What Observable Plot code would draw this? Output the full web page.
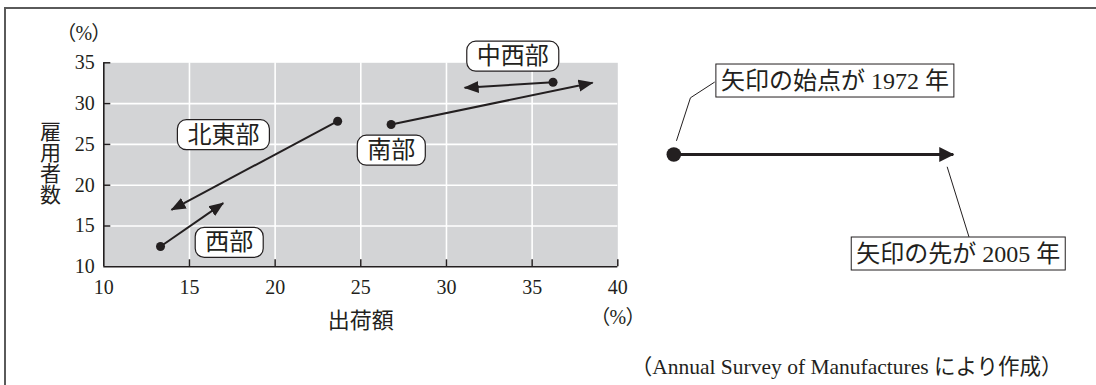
<!DOCTYPE html>
<html><head><meta charset="utf-8">
<script src="https://cdn.jsdelivr.net/npm/d3@7"></script>
<script src="https://cdn.jsdelivr.net/npm/@observablehq/plot@0.6"></script>
<style>
html,body{margin:0;padding:0;background:#fff;}
#wrap{position:relative;width:1096px;height:385px;overflow:hidden;}
#frame{position:absolute;left:4px;top:7px;width:1200px;height:500px;border-top:2px solid #5a5a5a;border-left:2px solid #5a5a5a;}
#chart{position:absolute;left:0;top:0;}
</style></head><body>
<div id="wrap"><div id="frame"></div><div id="chart"></div></div>
<script>
// ---- data (shares in %, 1972 -> 2005) ----
const regions = ["北東部", "西部", "南部", "中西部"];
const shipments1972 = [23.65, 13.31, 26.77, 36.22];
const employment1972 = [27.84, 12.49, 27.44, 32.62];
const shipments2005 = [13.95, 16.97, 38.53, 31.06];
const employment2005 = [16.99, 17.80, 32.55, 31.94];
// label anchor positions (data units)
const labelX = [16.98, 17.32, 26.78, 33.87];
const labelY = [26.15, 12.95, 24.25, 35.77];

const xTicks = [10, 15, 20, 25, 30, 35, 40];
const yTicks = [10, 15, 20, 25, 30, 35];

const yTitle = "雇用者数";
const xTitle = "出荷額";
const unitText = "（%）";
const caption = "（Annual Survey of Manufactures により作成）";

// legend (explanatory key, placed in data units right of the plot)
const legendText = ["矢印の始点が 1972 年", "矢印の先が 2005 年"];
const legendArrow = [{x1: 43.27, y1: 23.76, x2: 59.58, y2: 23.76}];
const legendTextX = [52.67, 59.87];
const legendTextY = [32.79, 11.59];
const leaderStart = [{x: 45.64, y: 32.62}, {x: 44.24, y: 30.71}, {x: 43.43, y: 25.48}];
const leaderEnd = [{x: 59.23, y: 22.21}, {x: 60.49, y: 13.71}];

// ---- build tables ----
const arrows = regions.map((r, i) => ({region: r, x1: shipments1972[i], y1: employment1972[i], x2: shipments2005[i], y2: employment2005[i]}));
const labels = regions.map((r, i) => ({text: r, x: labelX[i], y: labelY[i]}));
const legendLabels = legendText.map((t, i) => ({text: t, x: legendTextX[i], y: legendTextY[i]}));

const ink = "#231f20";
const font = '"Liberation Serif","Noto Sans CJK JP",serif';

const chart = Plot.plot({
  width: 1096, height: 385,
  marginLeft: 103.3, marginRight: 478.7, marginTop: 62.3, marginBottom: 118.7,
  x: {domain: [10, 40]},
  y: {domain: [10, 35]},
  style: {fontFamily: font, fontSize: "20px", color: ink, background: "transparent", overflow: "visible"},
  marks: [
    Plot.frame({fill: "#d3d4d6", stroke: "none"}),
    Plot.ruleX(xTicks.slice(1, -1), {stroke: "white", strokeWidth: 1.6}),
    Plot.ruleY(yTicks.slice(1, -1), {stroke: "white", strokeWidth: 1.6}),
    Plot.ruleX([10], {stroke: ink, strokeWidth: 1.6}),
    Plot.ruleY([10], {stroke: ink, strokeWidth: 1.6}),
    Plot.ruleX(xTicks.slice(1), {y1: 10, y2: 10, insetTop: -7, stroke: ink, strokeWidth: 1.5}),
    Plot.ruleY(yTicks.slice(1), {x1: 10, x2: 10, insetRight: -7, stroke: ink, strokeWidth: 1.5}),
    Plot.axisX(xTicks, {tickSize: 0, tickPadding: 13, fontSize: 20, label: null}),
    Plot.axisY(yTicks, {tickSize: 0, tickPadding: 9, fontSize: 20, label: null}),
    // axis titles
    Plot.text([yTitle], {x: 6.77, y: 23.66, text: d => d, fontSize: 21, ariaDescription: "ytitle"}),
    Plot.text([xTitle], {x: 25.0, y: 3.42, text: d => d, fontSize: 22}),
    Plot.text([unitText, unitText], {x: [8.83, 40.0], y: [38.55, 3.73], text: d => d, fontSize: 20, ariaDescription: "pct"}),
    Plot.text([caption], {x: 65.96, y: -2.30, text: d => d, textAnchor: "end", fontSize: 21.5}),
    // data arrows
    Plot.link(arrows, {x1: "x1", y1: "y1", x2: "x2", y2: "y2", stroke: ink, strokeWidth: 2, ariaDescription: "arrows"}),
    Plot.dot(arrows, {x: "x1", y: "y1", r: 4.5, fill: ink, stroke: "none"}),
    Plot.text(labels, {x: "x", y: "y", text: "text", fontSize: 24, ariaDescription: "region-label"}),
    // legend
    Plot.line(leaderStart, {x: "x", y: "y", stroke: ink, strokeWidth: 1}),
    Plot.line(leaderEnd, {x: "x", y: "y", stroke: ink, strokeWidth: 1}),
    Plot.link(legendArrow, {x1: "x1", y1: "y1", x2: "x2", y2: "y2", stroke: ink, strokeWidth: 3, ariaDescription: "legend-arrow"}),
    Plot.dot(legendArrow, {x: "x1", y: "y1", r: 7.3, fill: ink, stroke: "none"}),
    Plot.text(legendLabels, {x: "x", y: "y", text: "text", fontSize: 24, ariaDescription: "legend-label"})
  ]
});

document.getElementById("chart").append(chart);

function sel(label, tag) {
  const out = [];
  chart.querySelectorAll(`[aria-description="${label}"], [aria-label="${label}"]`).forEach(el => {
    if (el.tagName.toLowerCase() === tag) out.push(el);
    else el.querySelectorAll(tag).forEach(e => out.push(e));
  });
  return out;
}

const svg = d3.select(chart);
const defs = svg.insert("defs", ":first-child");
function addMarker(id, len, half, ref) {
  defs.append("marker").attr("id", id)
    .attr("markerUnits", "userSpaceOnUse")
    .attr("viewBox", `0 ${-half - 1} ${len + 2} ${2 * half + 2}`)
    .attr("markerWidth", len + 2).attr("markerHeight", 2 * half + 2)
    .attr("refX", ref).attr("refY", 0).attr("orient", "auto")
    .append("path").attr("d", `M0,${-half}L${len},0L0,${half}Z`).attr("fill", ink);
}
addMarker("tri", 15, 6, 14);
addMarker("triBig", 15, 7.5, 14);
sel("arrows", "path").forEach(p => { p.setAttribute("marker-end", "url(#tri)"); p.setAttribute("stroke-linecap", "butt"); });
sel("legend-arrow", "path").forEach(p => { p.setAttribute("marker-end", "url(#triBig)"); p.setAttribute("stroke-linecap", "butt"); });
sel("pct", "text").forEach(t => t.style.fontFeatureSettings = '"palt"');
sel("ytitle", "text").forEach(t => {
  t.removeAttribute("dy");
  t.setAttribute("writing-mode", "vertical-rl");
  t.style.writingMode = "vertical-rl";
  t.setAttribute("text-anchor", "middle");
});

function boxes(label, padX, h, rx, sw, adj) {
  sel(label, "text").forEach(function (el) {
    const bb = el.getBBox();
    const cy = bb.y + bb.height / 2 + adj;
    const r = document.createElementNS("http://www.w3.org/2000/svg", "rect");
    r.setAttribute("x", bb.x - padX);
    r.setAttribute("y", cy - h / 2);
    r.setAttribute("width", bb.width + 2 * padX);
    r.setAttribute("height", h);
    r.setAttribute("rx", rx);
    r.setAttribute("fill", "white");
    r.setAttribute("stroke", ink);
    r.setAttribute("stroke-width", sw);
    const t = el.getAttribute("transform");
    if (t) r.setAttribute("transform", t);
    el.parentNode.insertBefore(r, el);
  });
}
boxes("region-label", 10, 30, 9, 1.2, 0);
boxes("legend-label", 5, 33, 0, 1, 0);
</script></body></html>
